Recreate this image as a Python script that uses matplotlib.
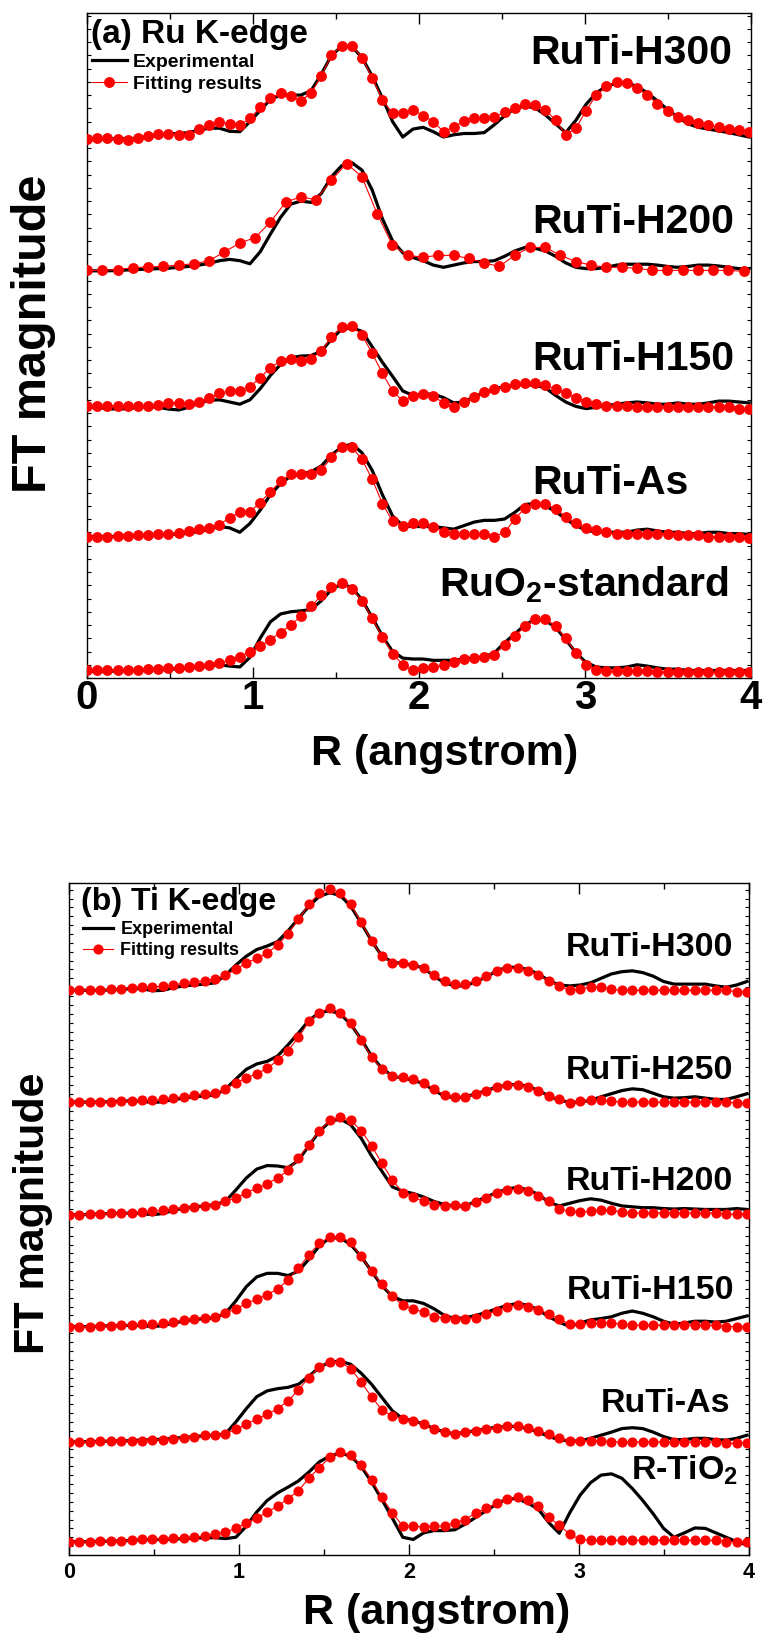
import numpy as np
import matplotlib
matplotlib.use("Agg")
import matplotlib.pyplot as plt
from matplotlib.ticker import MultipleLocator

plt.rcParams['font.family'] = ['Liberation Sans', 'DejaVu Sans']
plt.rcParams['font.weight'] = 'bold'
plt.rcParams['mathtext.fontset'] = 'custom'
plt.rcParams['mathtext.rm'] = 'Liberation Sans:bold'
plt.rcParams['mathtext.it'] = 'Liberation Sans:bold'
plt.rcParams['mathtext.bf'] = 'Liberation Sans:bold'

# R grid of the Fourier transforms (angstrom)
r = np.arange(66) * 0.06136
r_coarse = np.arange(44) * 0.092   # Ru H200 fit uses a coarser grid

# ---- (a) Ru K-edge, magnitudes (arb. units) ----
a_h300_exp = [3, 4, 4, 4, 4, 5, 8, 12, 15, 16, 18, 24, 28, 28, 21, 20, 43, 68, 93, 103,
              103, 103, 113, 150, 193, 213, 213, 188, 146, 96, 43, 8, 26,
              30, 20, 8, 13, 16, 16, 18, 36, 56, 73, 78, 74, 58, 38, 18, 46, 82, 108, 123, 130,
              130, 123, 108, 90, 70, 53, 38, 30, 26, 22, 18, 13, 8]
a_h300_fit = [3, 5, 5, 3, 2, 5, 10, 15, 16, 12, 12, 26, 35, 41, 38, 35, 50, 75, 96, 107,
              100, 90, 108, 146, 193, 215, 215, 188, 142, 92, 62, 63, 70,
              56, 43, 20, 31, 44, 50, 50, 54, 64, 73, 83, 81, 70, 46, 13, 28, 68, 103, 123, 133,
              130, 118, 103, 83, 66, 53, 46, 40, 35, 30, 26, 23, 20]
a_h200_exp = [2, 2, 2, 3, 4, 5, 6, 7, 8, 10, 12, 15, 19, 25, 28, 25, 18, 45, 85, 123,
              153, 160, 157, 177, 215, 240, 247, 230, 185, 120, 70, 43, 32,
              25, 15, 10, 15, 20, 23, 23, 25, 35, 47, 55, 53, 47, 35, 20, 10, 7, 7, 10, 15,
              17, 17, 17, 15, 12, 10, 12, 15, 15, 13, 10, 7, 7]
a_h200_fit = [3, 3, 5, 9, 11, 12, 15, 18, 25, 45, 65, 77, 112, 157, 170, 163, 207, 245, 215, 131,
              60, 37, 33, 37, 37, 30, 20, 12, 37, 55, 55, 37, 23, 15, 10, 10, 8, 3, 3, 3,
              3, 3, 3, 1]
a_h150_exp = [8, 6, 3, 2, 3, 6, 8, 6, 2, 0, 6, 16, 22, 23, 18, 13, 23, 48, 78, 103,
              118, 122, 123, 133, 160, 183, 186, 178, 143, 108, 76, 43, 33,
              36, 36, 28, 16, 18, 30, 40, 48, 53, 56, 58, 56, 50, 33, 18, 8, 3, 6, 10, 13,
              16, 18, 16, 13, 13, 16, 13, 13, 16, 20, 20, 18, 16]
a_h150_fit = [8, 8, 8, 8, 8, 8, 10, 11, 16, 16, 14, 18, 26, 38, 43, 44, 53, 73, 96, 110,
              116, 111, 116, 133, 166, 188, 190, 170, 128, 83, 43, 20, 31,
              36, 31, 16, 6, 18, 30, 40, 48, 53, 58, 60, 60, 56, 48, 38, 28, 18, 13, 10, 8,
              8, 7, 7, 7, 6, 6, 6, 6, 6, 6, 6, 3, 3]
a_as_exp = [3, 3, 3, 4, 5, 5, 6, 7, 8, 9, 11, 15, 20, 26, 23, 13, 33, 63, 98, 123,
            140, 145, 150, 163, 188, 206, 213, 193, 153, 98, 50, 28, 26,
            26, 26, 23, 20, 28, 36, 40, 40, 43, 58, 76, 78, 73, 60, 43, 28, 18, 13, 13, 13,
            13, 18, 20, 16, 13, 13, 10, 10, 13, 13, 10, 10, 8]
a_as_fit = [3, 3, 3, 5, 5, 6, 7, 8, 10, 12, 16, 20, 23, 30, 46, 58, 60, 80, 105, 128,
            145, 146, 146, 153, 183, 205, 206, 178, 133, 78, 38, 28, 33,
            33, 26, 13, 8, 8, 10, 10, 3, 13, 43, 68, 78, 78, 66, 48, 33, 23, 18, 13, 10,
            8, 8, 8, 8, 8, 6, 6, 6, 3, 3, 3, 3, 0]
a_ruo2_exp = [2, 2, 2, 3, 4, 4, 5, 6, 7, 8, 10, 12, 14, 17, 14, 12, 34, 77, 114, 132,
              137, 139, 142, 162, 187, 200, 192, 164, 124, 82, 47, 32, 30,
              30, 27, 27, 27, 30, 32, 35, 44, 67, 87, 107, 120, 117, 102, 74, 44, 22, 12, 10, 10,
              12, 17, 14, 10, 7, 7, 4, 4, 4, 4, 4, 4, 4]
a_ruo2_fit = [4, 4, 4, 4, 6, 6, 7, 8, 9, 10, 12, 14, 17, 22, 27, 34, 47, 59, 74, 90,
              107, 127, 149, 174, 192, 202, 189, 162, 122, 79, 42, 17, 4,
              10, 12, 17, 24, 29, 32, 34, 40, 62, 82, 104, 120, 120, 104, 77, 44, 17, 4, 2, 2,
              2, 2, 2, 0, 0, 0, 0, 0, 0, 0, 0, 0, 0]

a_labels = ['RuTi-H300', 'RuTi-H200', 'RuTi-H150', 'RuTi-As', r'RuO$_2$-standard']
a_offsets = [1217, 920, 607, 317, 13]

# ---- (b) Ti K-edge ----
b_h300_exp = [3, 3, 3, 3, 4, 5, 7, 7, 2, 3, 9, 13, 15, 17, 20, 37, 60, 80, 95, 103,
              113, 137, 165, 193, 215, 223, 217, 193, 155, 115, 80, 67, 63,
              60, 53, 35, 20, 13, 13, 23, 33, 47, 55, 55, 50, 40, 25, 15, 13, 15, 20, 30, 40,
              45, 47, 43, 35, 23, 17, 17, 17, 17, 13, 10, 15, 23]
b_h300_fit = [3, 3, 3, 3, 5, 7, 9, 11, 11, 12, 15, 19, 22, 25, 28, 37, 50, 65, 75, 87,
              105, 130, 163, 197, 223, 232, 223, 197, 157, 115, 80, 65, 65,
              60, 53, 37, 23, 17, 17, 25, 35, 47, 53, 53, 47, 37, 25, 13, 3, 7, 10, 10, 5,
              3, 3, 3, 3, 3, 3, 3, 3, 3, 3, 3, 0, 0]
b_h250_exp = [2, 2, 2, 2, 3, 4, 5, 4, 1, 3, 8, 11, 14, 16, 18, 31, 54, 76, 88, 94,
              106, 131, 158, 186, 204, 208, 201, 178, 144, 106, 78, 61, 56,
              51, 44, 28, 16, 11, 14, 21, 28, 36, 41, 42, 38, 28, 16, 6, 2, 2, 6, 14, 21,
              28, 32, 30, 22, 14, 11, 12, 14, 11, 8, 8, 14, 21]
b_h250_fit = [2, 2, 2, 2, 3, 4, 5, 6, 6, 8, 11, 14, 18, 21, 23, 31, 46, 56, 66, 78,
              96, 118, 148, 184, 204, 214, 204, 181, 141, 104, 76, 61, 58,
              54, 46, 31, 18, 14, 14, 21, 28, 36, 41, 41, 36, 26, 16, 8, 1, 4, 6, 6, 4,
              2, 2, 2, 2, 2, 2, 2, 2, 2, 2, 2, 0, 0]
b_h200_exp = [2, 2, 3, 4, 5, 5, 6, 5, 2, 5, 12, 17, 20, 22, 25, 32, 58, 85, 105, 113,
              112, 108, 125, 158, 190, 212, 218, 205, 175, 135, 100, 65, 55,
              50, 42, 32, 25, 22, 22, 32, 42, 52, 60, 64, 58, 48, 30, 22, 28, 34, 38, 35, 28,
              22, 20, 18, 18, 16, 15, 16, 15, 14, 14, 14, 16, 14]
b_h200_fit = [2, 2, 3, 4, 5, 5, 6, 8, 10, 12, 15, 18, 20, 22, 25, 32, 40, 52, 62, 72,
              85, 102, 130, 160, 192, 215, 222, 215, 192, 158, 118, 80, 52,
              42, 32, 25, 22, 25, 22, 30, 40, 52, 58, 60, 55, 45, 32, 15, 10, 8, 10, 12, 12,
              8, 6, 6, 6, 6, 6, 6, 6, 6, 6, 3, 3, 3]
b_h150_exp = [2, 2, 2, 3, 4, 4, 5, 4, 2, 4, 10, 14, 18, 20, 22, 32, 60, 92, 114, 122,
              122, 117, 127, 154, 184, 202, 202, 187, 160, 127, 94, 70, 60,
              60, 54, 42, 27, 20, 22, 27, 34, 42, 50, 54, 50, 40, 24, 12, 2, 10, 17, 20, 24,
              32, 37, 32, 24, 14, 7, 10, 14, 14, 12, 14, 20, 26]
b_h150_fit = [2, 2, 2, 4, 4, 5, 6, 7, 7, 9, 12, 16, 20, 22, 24, 32, 42, 54, 64, 74,
              87, 107, 134, 164, 190, 204, 204, 192, 160, 127, 97, 70, 50,
              42, 34, 24, 22, 20, 20, 22, 30, 37, 47, 50, 47, 40, 30, 20, 7, 7, 10, 10, 10,
              7, 5, 5, 5, 5, 5, 5, 5, 5, 5, 2, 2, 2]
b_as_exp = [4, 4, 5, 5, 6, 6, 7, 8, 9, 10, 12, 14, 16, 18, 19, 22, 49, 79, 106, 119,
            124, 127, 134, 152, 172, 184, 186, 179, 159, 134, 104, 74, 56,
            52, 44, 34, 26, 22, 26, 29, 34, 37, 39, 39, 34, 26, 16, 9, 6, 6, 12, 19, 26,
            34, 36, 34, 26, 16, 9, 9, 12, 12, 9, 8, 12, 19]
b_as_fit = [4, 4, 4, 5, 6, 6, 7, 7, 8, 9, 11, 12, 16, 19, 19, 22, 32, 44, 56, 66,
            79, 96, 122, 149, 172, 184, 184, 169, 139, 106, 76, 62, 56,
            52, 44, 34, 26, 22, 26, 29, 34, 36, 39, 39, 36, 29, 22, 12, 6, 6, 6, 6, 4,
            4, 4, 4, 4, 4, 4, 4, 4, 4, 4, 1, 1, 1]
b_rtio2_exp = [7, 7, 7, 8, 8, 9, 10, 11, 12, 12, 13, 14, 15, 16, 16, 14, 17, 42, 74, 100,
               117, 130, 144, 164, 187, 200, 207, 200, 177, 142, 102, 60, 17,
               12, 27, 32, 32, 34, 47, 62, 77, 92, 104, 104, 94, 80, 50, 26, 72, 112, 140, 157, 160,
               150, 127, 100, 70, 37, 17, 27, 38, 37, 27, 17, 7, 0]
b_rtio2_fit = [7, 7, 7, 8, 8, 9, 10, 12, 14, 14, 15, 16, 17, 20, 24, 28, 37, 50, 60, 74,
               87, 104, 122, 150, 174, 197, 210, 202, 180, 147, 107, 72, 42,
               42, 40, 42, 42, 50, 57, 72, 82, 94, 104, 107, 102, 87, 62, 44, 24, 12, 10, 10, 10,
               10, 10, 10, 10, 10, 10, 10, 10, 10, 10, 7, 7, 7]

b_labels = ['RuTi-H300', 'RuTi-H250', 'RuTi-H200', 'RuTi-H150', 'RuTi-As', r'R-TiO$_2$']
b_offsets = [1270, 1019, 765, 513, 251, 23]

panel_a = [(a_h300_exp, r, a_h300_fit), (a_h200_exp, r_coarse, a_h200_fit),
           (a_h150_exp, r, a_h150_fit), (a_as_exp, r, a_as_fit),
           (a_ruo2_exp, r, a_ruo2_fit)]
panel_b = [(b_h300_exp, r, b_h300_fit), (b_h250_exp, r, b_h250_fit),
           (b_h200_exp, r, b_h200_fit), (b_h150_exp, r, b_h150_fit),
           (b_as_exp, r, b_as_fit), (b_rtio2_exp, r, b_rtio2_fit)]

fig = plt.figure(figsize=(7.64, 16.36), dpi=100)
ax1 = fig.add_axes([87 / 764, 1 - 678 / 1636, 664 / 764, 665.5 / 1636])
ax2 = fig.add_axes([69 / 764, 1 - 1555 / 1636, 680 / 764, 672 / 1636])


def draw_panel(ax, curves, offsets, ms):
    handles = None
    for (exp, rf, fit), off in zip(curves, offsets):
        le, = ax.plot(r, np.array(exp) + off, color='k', lw=2.3, zorder=2)
        lf, = ax.plot(rf, np.array(fit) + off, color='red', lw=0.8, marker='o',
                      ms=ms, mec='red', mfc='red', zorder=3)
        if handles is None:
            handles = [le, lf]
    return handles


h1 = draw_panel(ax1, panel_a, a_offsets, 6.8)
h2 = draw_panel(ax2, panel_b, b_offsets, 6.3)

ax1.set_xlim(0, 4)
ax1.set_ylim(0, 1507)
ax2.set_xlim(0, 4)
ax2.set_ylim(0, 1515)

# sample names
a_pos = [(0.668, 0.923), (0.670, 0.669), (0.670, 0.463), (0.670, 0.276), (0.530, 0.123)]
for lab, (x, y) in zip(a_labels, a_pos):
    ax1.text(x, y, lab, transform=ax1.transAxes, fontsize=29.5, fontweight='bold',
             ha='left', va='baseline')
b_pos = [(0.730, 0.891), (0.730, 0.708), (0.730, 0.543), (0.732, 0.381), (0.782, 0.213),
         (0.827, 0.112)]
for lab, (x, y) in zip(b_labels, b_pos):
    ax2.text(x, y, lab, transform=ax2.transAxes, fontsize=24.5, fontweight='bold',
             ha='left', va='baseline')

ax1.text(0.006, 0.954, '(a) Ru K-edge', transform=ax1.transAxes, fontsize=24,
         fontweight='bold', ha='left', va='baseline')
ax2.text(0.018, 0.960, '(b) Ti K-edge', transform=ax2.transAxes, fontsize=23,
         fontweight='bold', ha='left', va='baseline')

ax1.legend(h1, ['Experimental', 'Fitting results'], loc='upper left',
           bbox_to_anchor=(0.0075, 0.939), frameon=False, borderpad=0, borderaxespad=0,
           handlelength=1.8, handletextpad=0.3, labelspacing=0.25, numpoints=1,
           prop={'weight': 'bold', 'size': 14})
ax2.legend(h2, ['Experimental', 'Fitting results'], loc='upper left',
           bbox_to_anchor=(0.0206, 0.943), frameon=False, borderpad=0, borderaxespad=0,
           handlelength=1.67, handletextpad=0.4, labelspacing=0.2, numpoints=1,
           prop={'weight': 'bold', 'size': 13})

for ax, lsize, pad, ystep in [(ax1, 29, 1, 30), (ax2, 15.5, 5, 20)]:
    ax.xaxis.set_major_locator(MultipleLocator(1))
    ax.xaxis.set_minor_locator(MultipleLocator(0.5))
    ax.yaxis.set_major_locator(MultipleLocator(ystep))
    ax.tick_params(axis='x', which='major', direction='in', length=8, width=1,
                   top=True, labelsize=lsize, pad=pad)
    ax.tick_params(axis='x', which='minor', direction='in', length=4, width=1, top=True)
    ax.tick_params(axis='y', which='major', direction='in', length=3, width=0.8,
                   left=True, right=True, labelleft=False)
    for s in ax.spines.values():
        s.set_linewidth(1)
    ax.set_xticks([0, 1, 2, 3, 4])
    ax.set_xticklabels(['0', '1', '2', '3', '4'])

ax1.set_xlabel('R (angstrom)', fontsize=31, fontweight='bold')
ax1.xaxis.set_label_coords(0.538, -0.114)
ax1.xaxis.label.set_va('center')
ax2.set_xlabel('R (angstrom)', fontsize=31, fontweight='bold')
ax2.xaxis.set_label_coords(0.541, -0.0863)
ax2.xaxis.label.set_va('center')

ax1.set_ylabel('FT magnitude', fontsize=35, fontweight='bold')
ax1.yaxis.set_label_coords(-0.081, 0.517)
ax1.yaxis.label.set_va('center')
ax2.set_ylabel('FT magnitude', fontsize=31, fontweight='bold')
ax2.yaxis.set_label_coords(-0.053, 0.509)
ax2.yaxis.label.set_va('center')

fig.savefig('out.png', dpi=100)
